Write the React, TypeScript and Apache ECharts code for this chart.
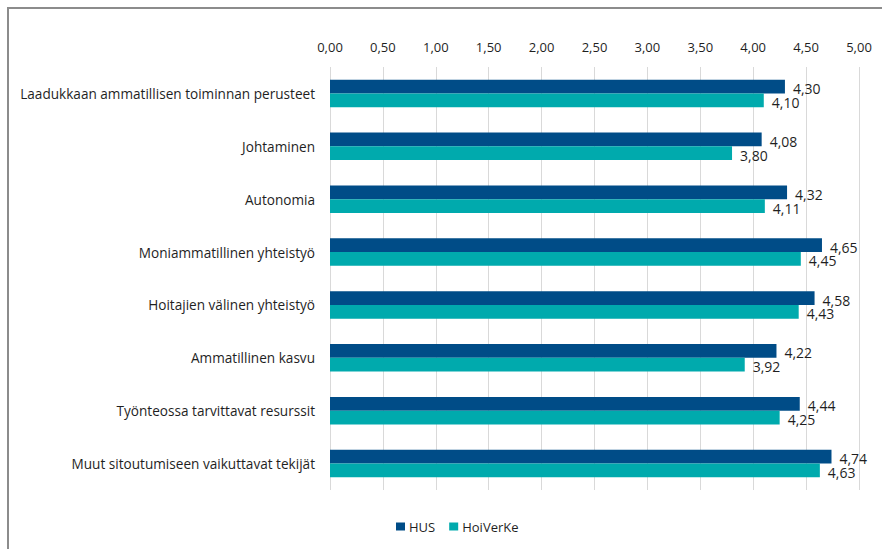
import React, { useEffect, useRef } from "react";
import * as echarts from "echarts";

const categories = [
  "Laadukkaan ammatillisen toiminnan perusteet",
  "Johtaminen",
  "Autonomia",
  "Moniammatillinen yhteistyö",
  "Hoitajien välinen yhteistyö",
  "Ammatillinen kasvu",
  "Työnteossa tarvittavat resurssit",
  "Muut sitoutumiseen vaikuttavat tekijät",
];
const husValues = [4.3, 4.08, 4.32, 4.65, 4.58, 4.22, 4.44, 4.74];
const hoiverkeValues = [4.1, 3.8, 4.11, 4.45, 4.43, 3.92, 4.25, 4.63];
const seriesNames = ["HUS", "HoiVerKe"];

const fmt = (v: number) => v.toFixed(2).replace(".", ",");
const FONT = "'Open Sans', Lato, sans-serif";
const TXT = "#1f1f1f";

export default function App() {
  const ref = useRef<HTMLDivElement>(null);
  useEffect(() => {
    if (!ref.current) return;
    const chart = echarts.init(ref.current, undefined, { renderer: "svg" });
    const label = {
      show: true,
      position: "right" as const,
      distance: 8,
      offset: [0, 2],
      color: TXT,
      fontFamily: FONT,
      fontSize: 14,
      formatter: (p: any) => fmt(p.value),
    };
    chart.setOption({
      animation: false,
      textStyle: { fontFamily: FONT },
      graphic: [
        {
          type: "rect",
          shape: { x: 8, y: 8, width: 900, height: 600 },
          style: { fill: "none", stroke: "#8c8c8c", lineWidth: 2 },
          silent: true,
        },
      ],
      grid: { left: 330, right: 23, top: 67, bottom: 59, containLabel: false },
      legend: {
        data: seriesNames,
        left: 391,
        top: 515,
        itemWidth: 9,
        itemHeight: 8,
        itemGap: 14,
        icon: "rect",
        textStyle: { color: TXT, fontFamily: FONT, fontSize: 13, padding: [0, 0, 0, -1] },
      },
      xAxis: {
        type: "value",
        position: "top",
        min: 0,
        max: 5,
        interval: 0.5,
        axisLine: { show: false },
        axisTick: { show: false },
        splitLine: { show: true, lineStyle: { color: "#d9d9d9", width: 1 } },
        axisLabel: {
          color: TXT,
          fontFamily: FONT,
          fontSize: 13,
          margin: 14,
          formatter: (v: number) => fmt(v),
        },
      },
      yAxis: {
        type: "category",
        data: categories,
        inverse: true,
        axisLine: { show: false },
        axisTick: { show: false },
        axisLabel: { color: TXT, fontFamily: FONT, fontSize: 13.6, margin: 15 },
      },
      series: [
        {
          name: seriesNames[0],
          type: "bar",
          data: husValues,
          itemStyle: { color: "#004C87" },
          barGap: "0%",
          barCategoryGap: "48%",
          label,
        },
        {
          name: seriesNames[1],
          type: "bar",
          data: hoiverkeValues,
          itemStyle: { color: "#00AAAD" },
          barGap: "0%",
          barCategoryGap: "48%",
          label,
        },
      ],
    });
    return () => chart.dispose();
  }, []);
  return (
    <div
      ref={ref}
      style={{ position: "fixed", left: 0, top: 0, width: 882, height: 549, background: "#fff" }}
    />
  );
}
